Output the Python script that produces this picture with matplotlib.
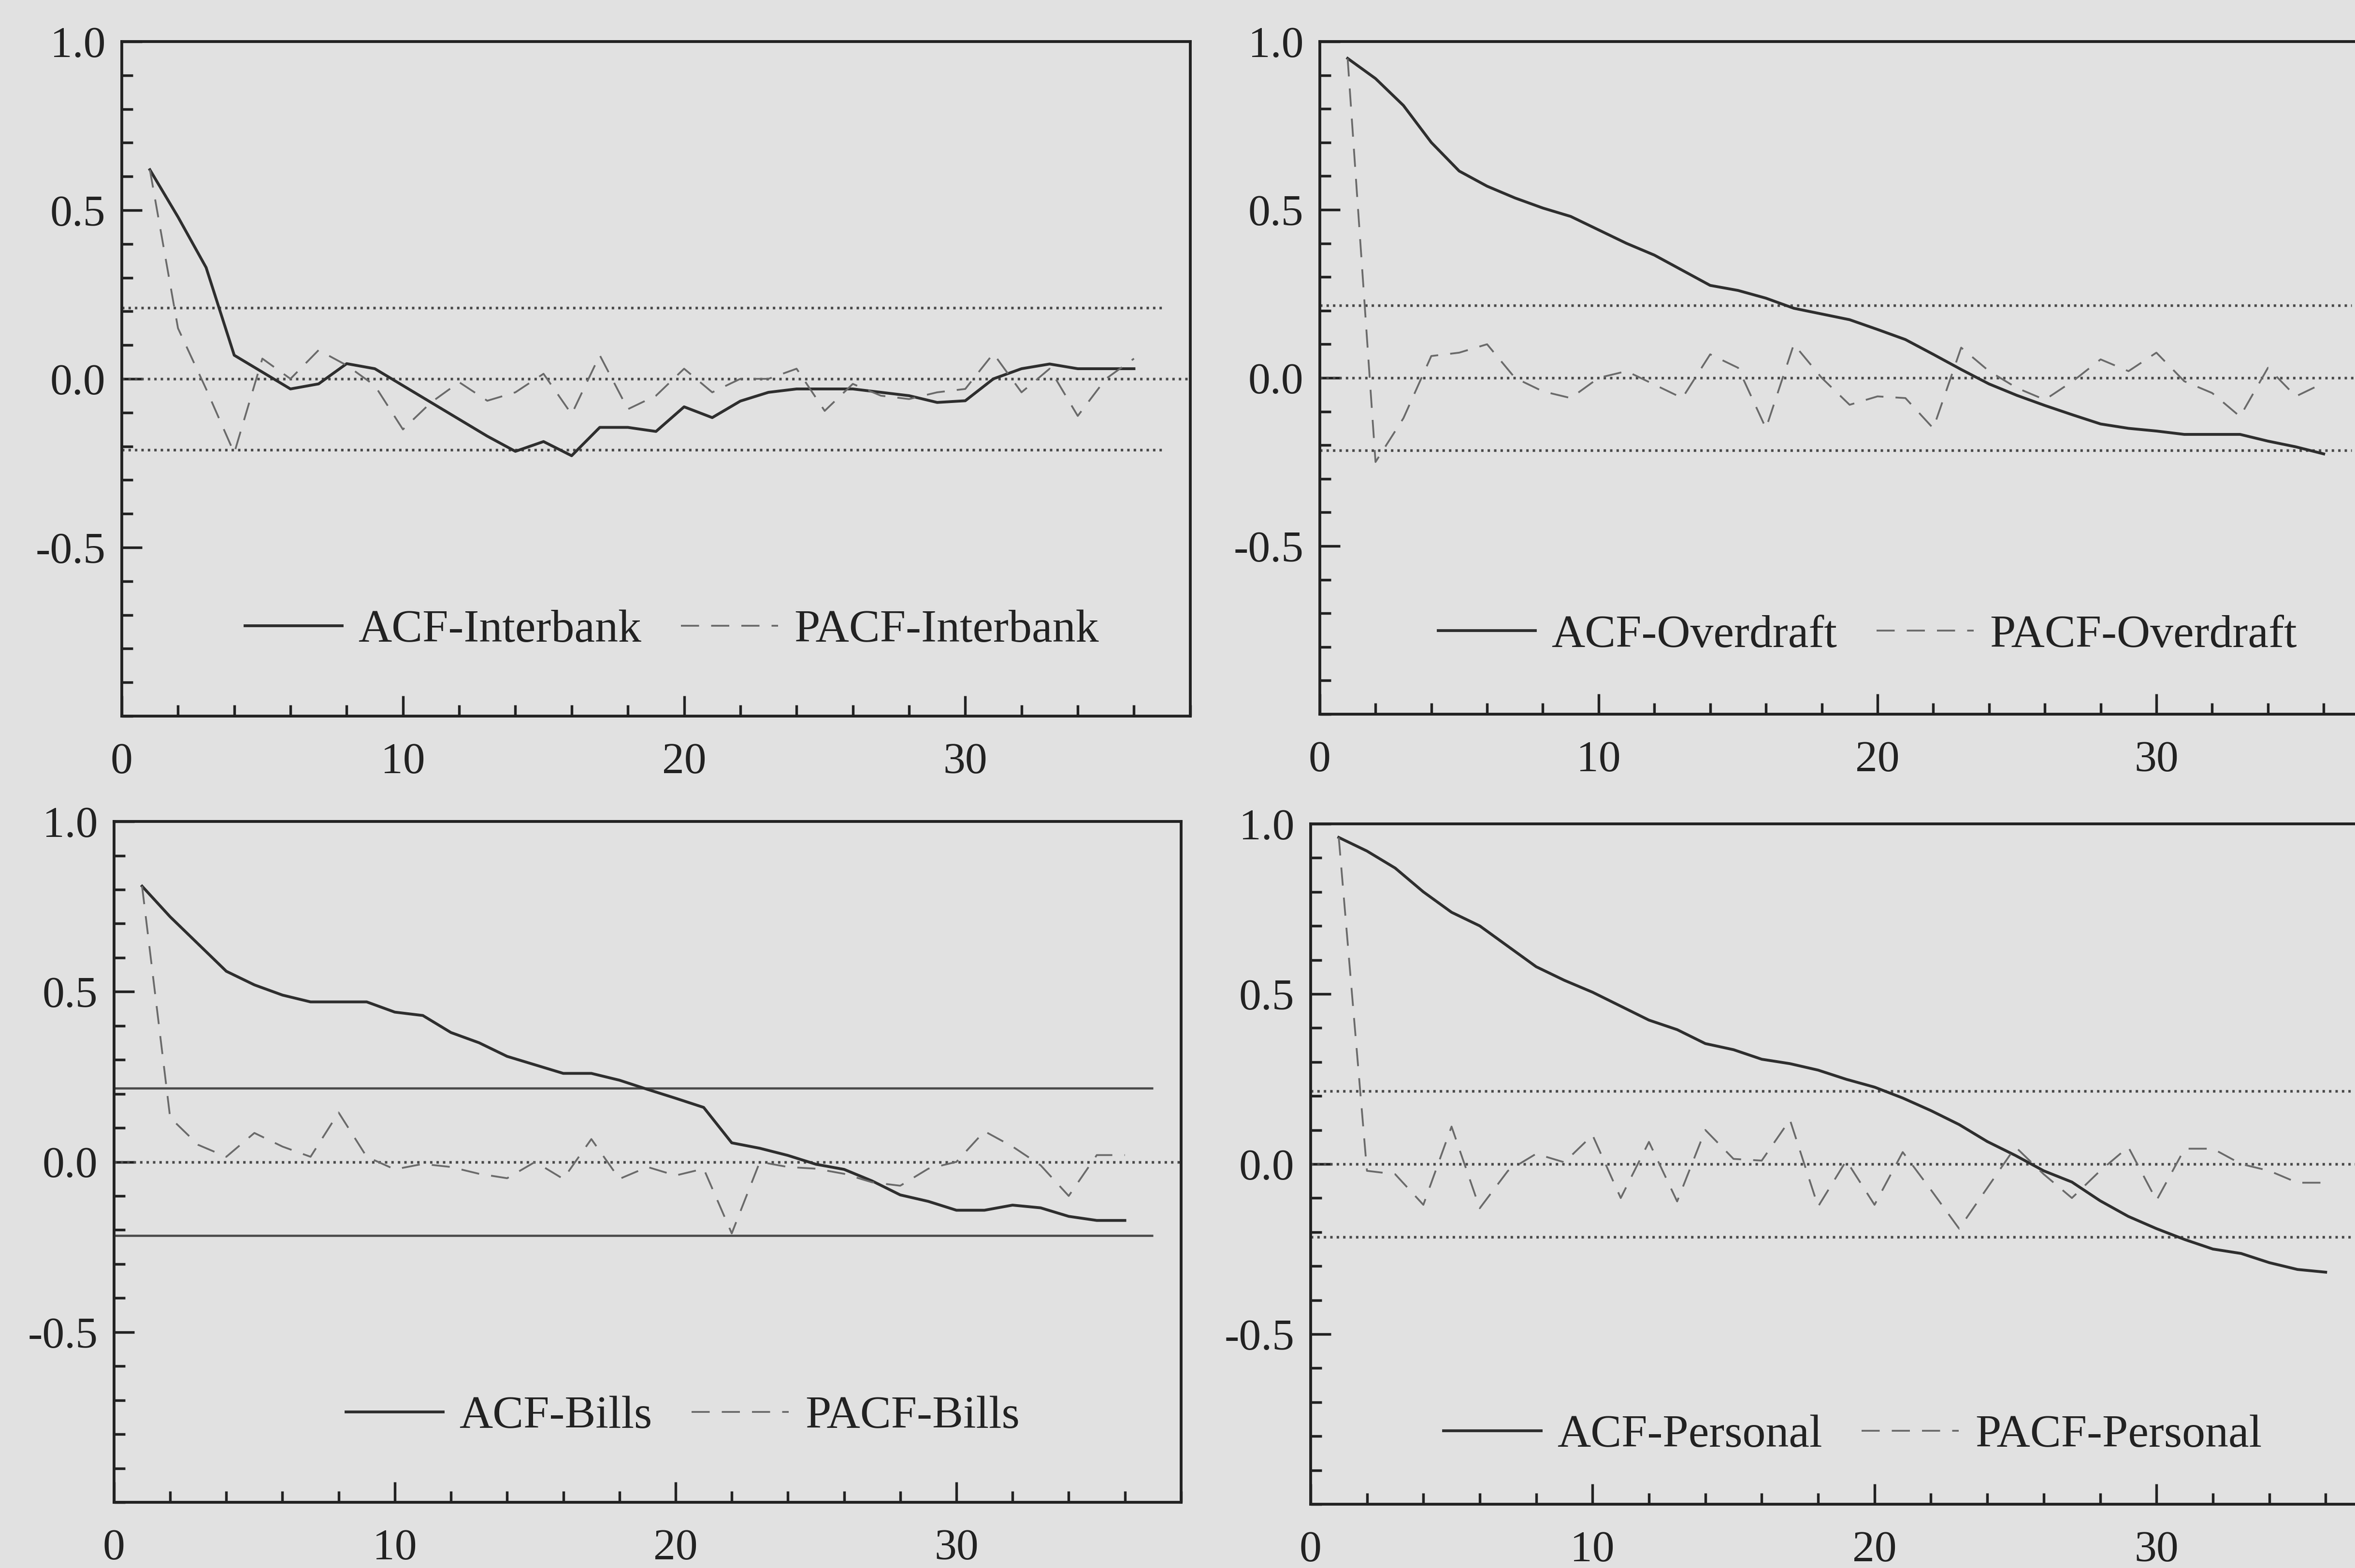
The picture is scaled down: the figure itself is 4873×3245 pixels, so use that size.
import matplotlib
matplotlib.use('Agg')
import matplotlib.pyplot as plt
from matplotlib.ticker import MultipleLocator, FixedLocator
import numpy as np

plt.rcParams['font.family'] = ['Liberation Serif', 'DejaVu Serif']
plt.rcParams['lines.scale_dashes'] = False

lags = np.arange(1, 37)

acf_interbank = [0.62, 0.48, 0.33, 0.07, 0.02, -0.03, -0.015, 0.045, 0.03, -0.02, -0.07, -0.12,
                 -0.17, -0.215, -0.186, -0.228, -0.144, -0.144, -0.156, -0.083, -0.115, -0.066,
                 -0.04, -0.03, -0.03, -0.03, -0.04, -0.05, -0.07, -0.065, 0.0, 0.03, 0.044, 0.03,
                 0.03, 0.03]
pacf_interbank = [0.62, 0.15, -0.03, -0.22, 0.06, 0.0, 0.085, 0.04, -0.02, -0.15, -0.07, -0.01,
                  -0.065, -0.04, 0.015, -0.105, 0.07, -0.09, -0.05, 0.03, -0.04, 0.0, 0.0, 0.03,
                  -0.095, -0.015, -0.05, -0.06, -0.04, -0.03, 0.075, -0.04, 0.03, -0.11, 0.0, 0.06]

acf_overdraft = [0.95, 0.89, 0.81, 0.70, 0.615, 0.57, 0.535, 0.505, 0.48, 0.44, 0.40, 0.365,
                 0.32, 0.275, 0.26, 0.237, 0.207, 0.19, 0.173, 0.144, 0.114, 0.07, 0.025, -0.018,
                 -0.052, -0.082, -0.11, -0.137, -0.15, -0.158, -0.168, -0.168, -0.168, -0.188,
                 -0.205, -0.226]
pacf_overdraft = [0.95, -0.25, -0.12, 0.065, 0.075, 0.10, 0.0, -0.04, -0.06, 0.0, 0.02, -0.02,
                  -0.06, 0.07, 0.03, -0.15, 0.10, 0.0, -0.08, -0.055, -0.06, -0.15, 0.09, 0.02,
                  -0.03, -0.065, -0.01, 0.055, 0.02, 0.075, -0.01, -0.045, -0.115, 0.03, -0.055,
                  -0.015]

acf_bills = [0.81, 0.72, 0.64, 0.56, 0.52, 0.49, 0.47, 0.47, 0.47, 0.44, 0.43, 0.38, 0.35, 0.31,
             0.285, 0.26, 0.26, 0.24, 0.213, 0.187, 0.16, 0.056, 0.04, 0.019, -0.007, -0.022,
             -0.056, -0.097, -0.116, -0.142, -0.142, -0.127, -0.135, -0.16, -0.172, -0.172]
pacf_bills = [0.81, 0.13, 0.05, 0.015, 0.085, 0.045, 0.015, 0.145, 0.015, -0.022, -0.006, -0.015,
              -0.035, -0.048, 0.0, -0.05, 0.067, -0.05, -0.015, -0.04, -0.02, -0.21, 0.0, -0.015,
              -0.02, -0.035, -0.06, -0.07, -0.02, 0.0, 0.09, 0.045, -0.01, -0.1, 0.02, 0.02]

acf_personal = [0.96, 0.92, 0.87, 0.80, 0.74, 0.70, 0.64, 0.58, 0.54, 0.505, 0.464, 0.423, 0.395,
                0.354, 0.336, 0.308, 0.295, 0.276, 0.249, 0.226, 0.194, 0.157, 0.116, 0.066, 0.025,
                -0.02, -0.053, -0.108, -0.154, -0.19, -0.222, -0.25, -0.263, -0.29, -0.31, -0.318]
pacf_personal = [0.96, -0.02, -0.03, -0.12, 0.11, -0.13, -0.02, 0.03, 0.005, 0.085, -0.10, 0.065,
                 -0.11, 0.10, 0.015, 0.01, 0.13, -0.125, 0.01, -0.12, 0.035, -0.076, -0.19, -0.07,
                 0.05, -0.03, -0.10, -0.02, 0.05, -0.107, 0.045, 0.045, 0.0, -0.02, -0.055, -0.055]

names = ['Interbank', 'Overdraft', 'Bills', 'Personal']
acfs = [acf_interbank, acf_overdraft, acf_bills, acf_personal]
pacfs = [pacf_interbank, pacf_overdraft, pacf_bills, pacf_personal]
bands = [0.21, 0.215, 0.216, 0.215]
band_styles = [':', ':', '-', ':']

# axes rectangles in figure fraction (right panels run past the page edge, as in the scan)
rects = [[0.0517, 0.5433, 0.4537, 0.4302],
         [0.5604, 0.5445, 0.4500, 0.4290],
         [0.0484, 0.0419, 0.4531, 0.4342],
         [0.5565, 0.0407, 0.4550, 0.4339]]
legend_pos = [(0.515, 0.127), (0.517, 0.117), (0.533, 0.126), (0.506, 0.101)]

bg = '#e1e1e1'
ink = '#222222'
dot = (0, (1.2, 2.0))

fig = plt.figure(figsize=(4873 / 300, 3245 / 300), dpi=300, facecolor=bg)

for i in range(4):
    ax = fig.add_axes(rects[i])
    ax.set_facecolor(bg)

    ax.axhline(0, color='#4a4a4a', lw=1.3, ls=dot)
    if band_styles[i] == '-':
        ax.hlines([bands[i], -bands[i]], 0, 37, color='#4a4a4a', lw=1.1)
    else:
        ax.hlines([bands[i], -bands[i]], 0, 37, color='#4a4a4a', lw=1.3, linestyles=[dot])

    ax.plot(lags, acfs[i], color='#2e2e2e', lw=1.4, label='ACF-' + names[i])
    ax.plot(lags, pacfs[i], color='#6a6a6a', lw=0.9, dashes=(9, 6), label='PACF-' + names[i])

    ax.set_xlim(0, 38)
    ax.set_ylim(-1, 1)
    ax.xaxis.set_major_locator(FixedLocator([0, 10, 20, 30]))
    ax.xaxis.set_minor_locator(MultipleLocator(2))
    ax.set_yticks([-0.5, 0.0, 0.5, 1.0])
    ax.set_yticklabels(['-0.5', '0.0', '0.5', '1.0'])
    ax.yaxis.set_minor_locator(MultipleLocator(0.1))
    ax.tick_params(which='both', direction='in', color=ink, width=1.3, labelcolor=ink,
                   top=False, right=False)
    ax.tick_params(which='major', length=10, labelsize=22)
    ax.tick_params(which='minor', length=5.5)
    ax.tick_params(axis='x', which='major', pad=13)
    ax.tick_params(axis='y', which='major', pad=8)
    for s in ax.spines.values():
        s.set_color(ink)
        s.set_linewidth(1.4)

    ax.legend(loc='center', bbox_to_anchor=legend_pos[i], ncol=2, frameon=False, fontsize=23,
              handlelength=2.1, handletextpad=0.35, columnspacing=0.85, labelcolor=ink)

fig.savefig('out.png', dpi=300, facecolor=bg)
